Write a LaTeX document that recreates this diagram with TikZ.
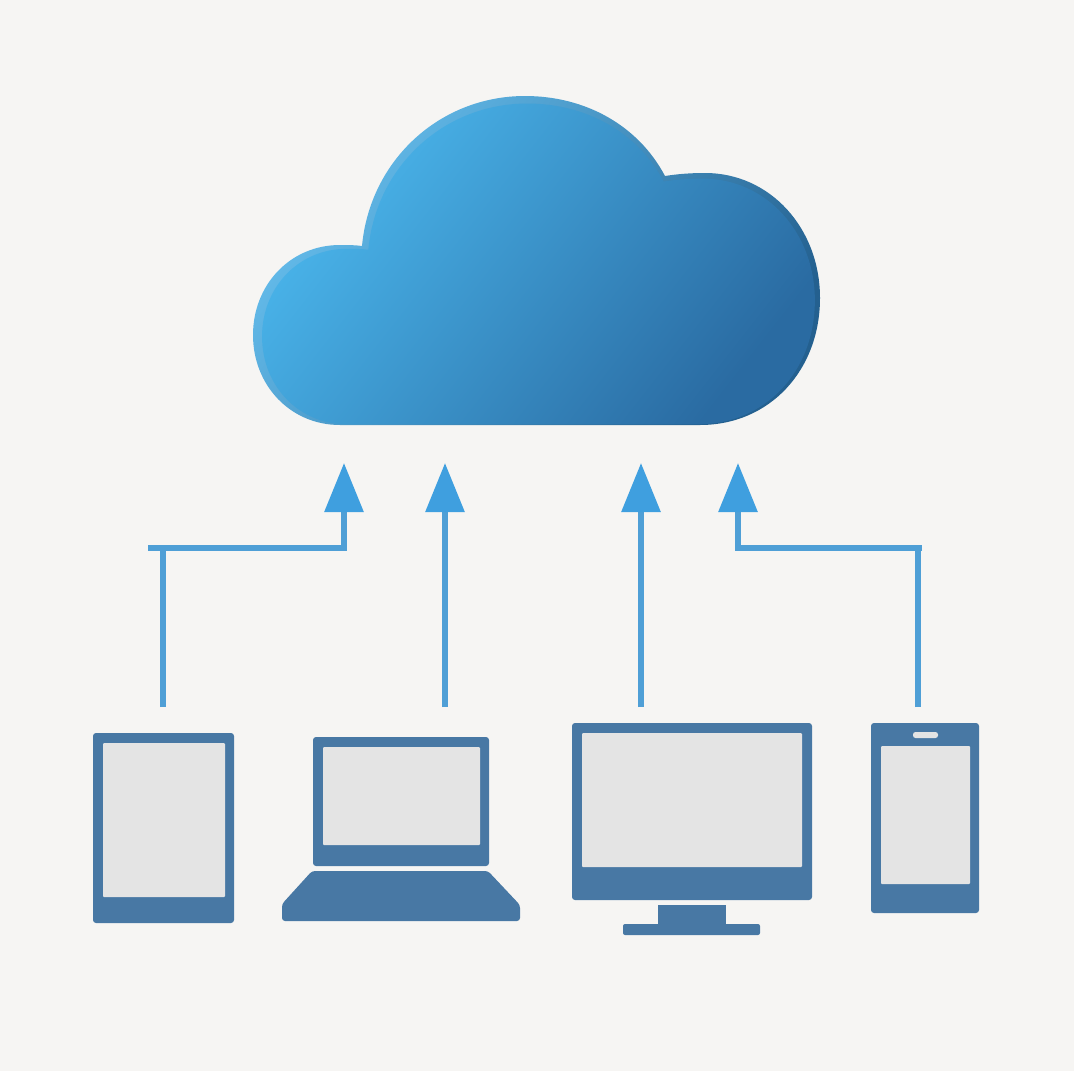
\documentclass[tikz,border=0pt]{standalone}
\usetikzlibrary{arrows.meta}
\definecolor{paper}{HTML}{F6F5F3}
\definecolor{device}{HTML}{4878A4}
\definecolor{glass}{HTML}{E4E4E4}
\definecolor{wire}{HTML}{4F9FD6}
\definecolor{tip}{HTML}{3F9FDF}
\definecolor{rimA}{HTML}{66BFEE}
\definecolor{rimB}{HTML}{52A6DA}
\definecolor{rimC}{HTML}{24608F}
\definecolor{skyA}{HTML}{4AB6EC}
\definecolor{skyB}{HTML}{3D9BD5}
\definecolor{skyC}{HTML}{2A6BA2}
\tikzset{
  body/.style={rectangle,rounded corners=3pt,fill=device,inner sep=0pt,draw=none},
  pane/.style={rectangle,rounded corners=1pt,fill=glass,inner sep=0pt,draw=none},
  link/.style={draw=wire,line width=6pt,line join=miter},
  linkarrow/.style={link,-{Triangle[length=49pt,width=38pt,fill=tip,color=tip]}},
}
\newcommand{\cloudshape}{%
  (340,425) -- (700,425)
  .. controls (770,425) and (820,370) .. (820,298)
  .. controls (820,228) and (770,173) .. (705,173)
  .. controls (690,173) and (678,174) .. (665,176)
  .. controls (638,125) and (585,96) .. (525,96)
  .. controls (440,96) and (370,160) .. (362,246)
  .. controls (355,245) and (347,245) .. (340,245)
  .. controls (290,245) and (253,285) .. (253,335)
  .. controls (253,385) and (290,425) .. (340,425) -- cycle}
\begin{document}
\begin{tikzpicture}[x=1pt,y=-1pt]
\useasboundingbox (0,0) rectangle (1074,1071);
\fill[paper] (0,0) rectangle (1074,1071);
% cloud
\shade[left color=rimA,middle color=rimB,right color=rimC,shading angle=52] \cloudshape;
\begin{scope}[shift={(536.5,260.5)},scale=0.975,shift={(-536.5,-260.5)},shift={(2,3.5)}]
\shade[left color=skyA,middle color=skyB,right color=skyC,shading angle=52] \cloudshape;
\end{scope}
% tablet
\node[body,minimum width=141pt,minimum height=190pt] (tablet) at (163.5,828) {};
\node[pane,minimum width=122pt,minimum height=154pt] (tabletscreen) at (164,820) {};
% laptop
\node[body,minimum width=176pt,minimum height=129pt] (laptop) at (401,801.5) {};
\node[pane,minimum width=157pt,minimum height=98pt] (laptopscreen) at (401.5,796) {};
\fill[device,rounded corners=3pt] (312,871) -- (488,871) -- (520,905) -- (520,921) -- (282,921) -- (282,904) -- cycle;
% monitor
\node[body,minimum width=240pt,minimum height=177pt] (monitor) at (692,811.5) {};
\node[pane,minimum width=220pt,minimum height=134pt] (monitorscreen) at (692,800) {};
\node[rectangle,fill=device,inner sep=0pt,minimum width=68pt,minimum height=21pt] (neck) at (692,915.5) {};
\node[body,rounded corners=2pt,minimum width=137pt,minimum height=11pt] (foot) at (691.5,929.5) {};
% phone
\node[body,minimum width=108pt,minimum height=190pt] (phone) at (925,818) {};
\node[pane,minimum width=89pt,minimum height=138pt] (phonescreen) at (925.5,815) {};
\node[rectangle,rounded corners=2.5pt,fill=glass,inner sep=0pt,minimum width=25pt,minimum height=6pt] (speaker) at (925.5,735) {};
% connector ends
\coordinate (tabletport) at (163,707);
\coordinate (laptopport) at (445,707);
\coordinate (monitorport) at (641,707);
\coordinate (phoneport) at (918,707);
\coordinate (inA) at (344,463);
\coordinate (inB) at (445,463);
\coordinate (inC) at (641,463);
\coordinate (inD) at (738,463);
\coordinate (stubL) at (148,548);
\coordinate (stubR) at (922,548);
% connectors
\draw[link] (tabletport) -- (tabletport |- stubL);
\draw[linkarrow] (stubL) -| (inA);
\draw[linkarrow] (laptopport) -- (inB);
\draw[linkarrow] (monitorport) -- (inC);
\draw[link] (phoneport) -- (phoneport |- stubR);
\draw[linkarrow] (stubR) -| (inD);
\end{tikzpicture}
\end{document}
